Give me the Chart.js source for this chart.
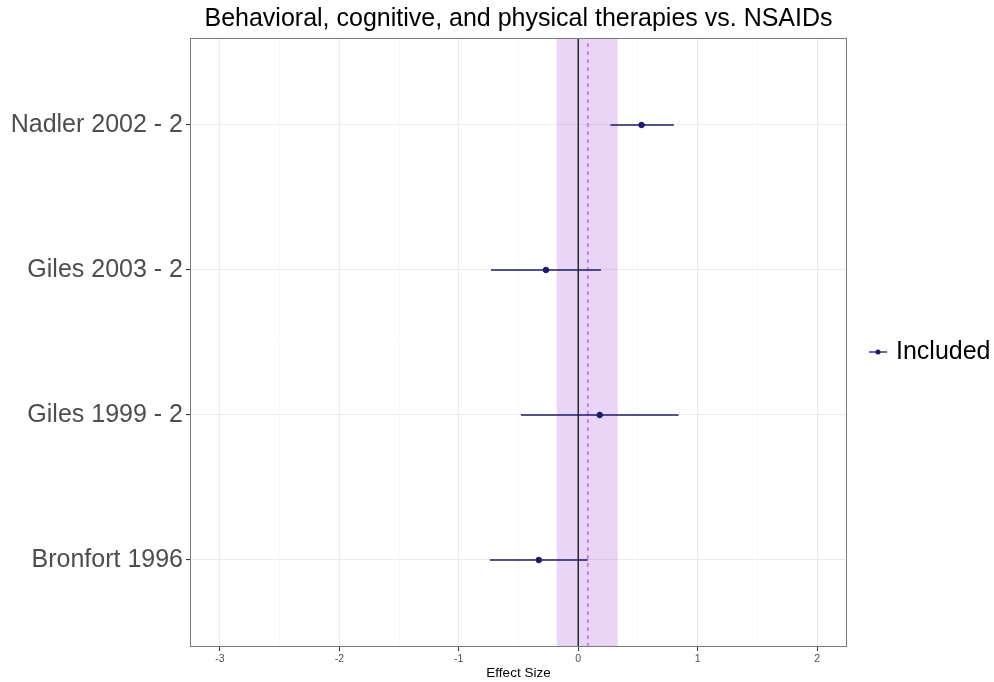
<!DOCTYPE html>
<html>
<head>
<meta charset="utf-8">
<script src="https://cdn.jsdelivr.net/npm/chart.js@4/dist/chart.umd.min.js"></script>
<style>
    html, body { margin: 0; padding: 0; background: #ffffff; }
    #wrap { width: 994px; height: 682px; position: relative; }
</style>
</head>
<body>
<div id="wrap"><canvas id="forestChart"></canvas></div>
<script>
// Study labels, bottom row first (y positions 1..4)
const studies = ['Bronfort 1996', 'Giles 1999 - 2', 'Giles 2003 - 2', 'Nadler 2002 - 2'];
const rowPositions = [1, 2, 3, 4];
const estimates = [-0.33, 0.18, -0.27, 0.53];
const lowerCI = [-0.74, -0.48, -0.73, 0.27];
const upperCI = [0.08, 0.84, 0.19, 0.80];

// Pooled estimate and its interval (shaded band)
const pooledEstimate = 0.08;
const pooledLower = -0.18;
const pooledUpper = 0.33;

// Axis settings
const xTickValues = [-3, -2.5, -2, -1.5, -1, -0.5, 0, 0.5, 1, 1.5, 2];
const xMin = -3.25, xMax = 2.25;
const yMin = 0.4, yMax = 4.6;

const chartTitle = 'Behavioral, cognitive, and physical therapies vs. NSAIDs';
const xAxisTitle = 'Effect Size';
const legendLabel = 'Included';

const FONT = '"Liberation Sans", Arial, Helvetica, sans-serif';
const NAVY = '#1b1a6b';

// Build datasets
const datasets = [];

// points (drawn on top)
datasets.push({
    type: 'scatter',
    label: legendLabel,
    data: estimates.map((v, i) => ({ x: v, y: rowPositions[i] })),
    backgroundColor: NAVY,
    borderColor: NAVY,
    pointRadius: 2.8,
    pointHoverRadius: 2.8
});

// confidence interval segments
studies.forEach((s, i) => {
    datasets.push({
        type: 'line',
        label: s,
        data: [{ x: lowerCI[i], y: rowPositions[i] }, { x: upperCI[i], y: rowPositions[i] }],
        borderColor: NAVY,
        borderWidth: 1.3,
        pointRadius: 0,
        fill: false
    });
});

// dashed pooled estimate line
datasets.push({
    type: 'line',
    label: 'pooled',
    data: [{ x: pooledEstimate, y: yMin }, { x: pooledEstimate, y: yMax }],
    borderColor: '#bf74ee',
    borderWidth: 1.6,
    borderDash: [4, 4],
    pointRadius: 0,
    fill: false
});

// zero reference line
datasets.push({
    type: 'line',
    label: 'zero',
    data: [{ x: 0, y: yMin }, { x: 0, y: yMax }],
    borderColor: '#111111',
    borderWidth: 1.3,
    pointRadius: 0,
    fill: false
});

// Shaded band between pooled CI limits
const bandPlugin = {
    id: 'band',
    beforeDatasetsDraw(chart) {
        const { ctx, chartArea, scales } = chart;
        const x1 = scales.x.getPixelForValue(pooledLower);
        const x2 = scales.x.getPixelForValue(pooledUpper);
        ctx.save();
        ctx.fillStyle = 'rgba(163, 87, 215, 0.25)';
        ctx.fillRect(x1, chartArea.top, x2 - x1, chartArea.bottom - chartArea.top);
        ctx.restore();
    }
};

// Panel border, title and legend
const decorPlugin = {
    id: 'decor',
    afterDraw(chart) {
        const { ctx, chartArea } = chart;
        ctx.save();
        ctx.strokeStyle = '#7a7a7a';
        ctx.lineWidth = 1;
        ctx.strokeRect(Math.round(chartArea.left) + 0.5, Math.round(chartArea.top) + 0.5,
            Math.round(chartArea.right - chartArea.left) - 1, Math.round(chartArea.bottom - chartArea.top) - 1);

        // title
        ctx.fillStyle = '#000000';
        ctx.font = '25px ' + FONT;
        ctx.textAlign = 'center';
        ctx.textBaseline = 'middle';
        ctx.fillText(chartTitle, (chartArea.left + chartArea.right) / 2, 19);

        // legend
        const ly = 352;
        ctx.strokeStyle = NAVY;
        ctx.lineWidth = 1.3;
        ctx.beginPath();
        ctx.moveTo(869, ly);
        ctx.lineTo(887, ly);
        ctx.stroke();
        ctx.fillStyle = NAVY;
        ctx.beginPath();
        ctx.arc(878, ly, 2.5, 0, Math.PI * 2);
        ctx.fill();
        ctx.fillStyle = '#000000';
        ctx.font = '25px ' + FONT;
        ctx.textAlign = 'left';
        ctx.fillText(legendLabel, 896, ly);
        ctx.restore();
    }
};

new Chart(document.getElementById('forestChart'), {
    type: 'scatter',
    data: { datasets: datasets },
    options: {
        responsive: true,
        maintainAspectRatio: false,
        animation: false,
        layout: { padding: { top: 38, right: 147, bottom: 0, left: 0 } },
        plugins: {
            legend: { display: false },
            tooltip: { enabled: false },
            title: { display: false }
        },
        scales: {
            x: {
                type: 'linear',
                min: xMin,
                max: xMax,
                afterBuildTicks(scale) {
                    scale.ticks = xTickValues.map(v => ({ value: v }));
                },
                afterFit(scale) { scale.height = 35; },
                ticks: {
                    autoSkip: false,
                    maxRotation: 0,
                    padding: 2,
                    color: '#4d4d4d',
                    font: { family: FONT, size: 10.5 },
                    callback: v => Number.isInteger(v) ? String(v) : ''
                },
                grid: {
                    color: c => Number.isInteger(c.tick.value) ? '#ebebeb' : '#f5f5f5',
                    lineWidth: c => Number.isInteger(c.tick.value) ? 1.1 : 0.6,
                    tickColor: c => Number.isInteger(c.tick.value) ? '#333333' : 'rgba(0,0,0,0)',
                    tickLength: 4,
                    tickWidth: 1
                },
                border: { display: false },
                title: {
                    display: true,
                    text: xAxisTitle,
                    color: '#000000',
                    font: { family: FONT, size: 13.5 },
                    padding: { top: 0, bottom: 1 }
                }
            },
            y: {
                type: 'linear',
                min: yMin,
                max: yMax,
                afterBuildTicks(scale) {
                    scale.ticks = rowPositions.map(v => ({ value: v }));
                },
                afterFit(scale) { scale.width = 190; },
                ticks: {
                    autoSkip: false,
                    padding: 3,
                    color: '#4d4d4d',
                    font: { family: FONT, size: 25 },
                    callback: v => studies[rowPositions.indexOf(v)] || ''
                },
                grid: {
                    color: '#ebebeb',
                    lineWidth: 1.1,
                    tickColor: '#333333',
                    tickLength: 4
                },
                border: { display: false }
            }
        }
    },
    plugins: [bandPlugin, decorPlugin]
});
</script>
</body>
</html>
